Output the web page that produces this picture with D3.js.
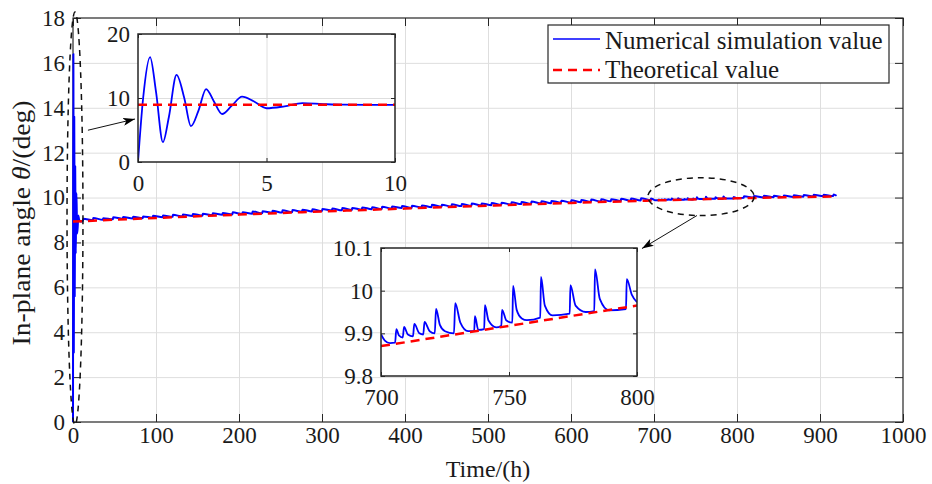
<!DOCTYPE html>
<html>
<head>
<meta charset="utf-8">
<script src="https://cdn.jsdelivr.net/npm/d3@7"></script>
<style>
body { margin: 0; background: #fff; }
text { font-family: "Liberation Serif", "Times New Roman", serif; fill: #1a1a1a; }
</style>
</head>
<body>
<div id="chart"></div>
<script>
/* ---- DATA ---- */
var xTicks = [0, 100, 200, 300, 400, 500, 600, 700, 800, 900, 1000];
var yTicks = [0, 2, 4, 6, 8, 10, 12, 14, 16, 18];

// theoretical in-plane angle (deg) vs time (h)
var theoryT = [0, 100, 200, 300, 400, 500, 600, 700, 800, 920];
var theoryV = [8.93, 9.09, 9.24, 9.38, 9.51, 9.64, 9.76, 9.87, 9.965, 10.05];

// start-up transient, 0-10 h
var transient = [
  [0, 0], [0.2, 10], [0.47, 16.4], [0.7, 11], [0.97, 3.1], [1.2, 7],
  [1.5, 13.6], [1.8, 10], [2.06, 5.6], [2.35, 8], [2.65, 11.4], [2.95, 9.5],
  [3.27, 7.5], [3.65, 8.8], [4.05, 10.2], [4.5, 9.5], [5.0, 8.4], [5.7, 8.7],
  [6.4, 9.2], [7.2, 9.05], [8, 8.95], [10, 8.93]
];

// small spikes along the long run: [time, low, peak]
var spikes = [
  [12, 8.97, 9.06], [24, 8.99, 9.09], [36, 9.01, 9.08], [48, 9.03, 9.12],
  [60, 9.05, 9.13], [72, 9.07, 9.15], [84, 9.08, 9.16], [96, 9.10, 9.19],
  [108, 9.12, 9.20], [120, 9.14, 9.23], [132, 9.16, 9.24], [144, 9.18, 9.27],
  [156, 9.19, 9.28], [168, 9.21, 9.30], [180, 9.23, 9.31], [192, 9.25, 9.34],
  [204, 9.27, 9.35], [216, 9.28, 9.38], [228, 9.30, 9.39], [240, 9.32, 9.41],
  [252, 9.33, 9.43], [264, 9.35, 9.44], [276, 9.37, 9.46], [288, 9.38, 9.48],
  [300, 9.40, 9.49], [312, 9.42, 9.51], [324, 9.43, 9.53], [336, 9.45, 9.54],
  [348, 9.46, 9.56], [360, 9.48, 9.57], [372, 9.49, 9.59], [384, 9.51, 9.60],
  [396, 9.53, 9.62], [408, 9.54, 9.63], [420, 9.56, 9.65], [432, 9.57, 9.68],
  [444, 9.59, 9.68], [456, 9.60, 9.70], [468, 9.62, 9.71], [480, 9.63, 9.73],
  [492, 9.65, 9.74], [504, 9.66, 9.76], [516, 9.68, 9.77], [528, 9.69, 9.79],
  [540, 9.71, 9.80], [552, 9.72, 9.82], [564, 9.74, 9.83], [576, 9.75, 9.85],
  [588, 9.77, 9.86], [600, 9.78, 9.88], [612, 9.79, 9.89], [624, 9.81, 9.91],
  [636, 9.82, 9.92], [648, 9.83, 9.93], [660, 9.85, 9.95], [672, 9.86, 9.96],
  [684, 9.87, 9.97], [696, 9.89, 9.96],
  [808, 9.99, 10.06], [820, 10.00, 10.07], [832, 10.00, 10.08], [844, 10.01, 10.08],
  [856, 10.02, 10.09], [868, 10.03, 10.10], [880, 10.04, 10.11], [892, 10.05, 10.12],
  [904, 10.06, 10.12], [916, 10.07, 10.14]
];
var runEnd = [920, 10.08];

// zoomed window 700-800 h
var detail = [
  [700, 9.898], [701.5, 9.883], [703.5, 9.877], [705.5, 9.878], [706, 9.91],
  [707, 9.895], [708.5, 9.89], [709, 9.915], [710.5, 9.897], [712.5, 9.893],
  [713, 9.922], [715, 9.9], [716.5, 9.897], [717, 9.927], [719, 9.905],
  [721, 9.9], [721.5, 9.957], [723, 9.92], [725, 9.905], [728.5, 9.9],
  [729, 9.971], [731, 9.925], [734, 9.905], [736.4, 9.905], [736.7, 9.94],
  [738, 9.908], [740.3, 9.91], [740.6, 9.966], [742, 9.93], [745, 9.914],
  [747, 9.918], [747.3, 9.955], [749, 9.93], [751.3, 9.925], [751.6, 10.011],
  [753, 9.955], [755, 9.935], [757, 9.931], [762.2, 9.937], [762.5, 10.032],
  [764, 9.965], [767, 9.942], [773.7, 9.946], [774, 10.013], [776, 9.965],
  [780, 9.95], [783.3, 9.952], [783.6, 10.05], [785.5, 9.98], [789, 9.954],
  [795.7, 9.957], [796, 10.027], [798, 9.99], [800, 9.973]
];
var detailTheory = [[700, 9.87], [800, 9.965]];
var startTheory = [[0, 8.93], [10, 8.94]];

var legendLabels = ["Numerical simulation value", "Theoretical value"];

/* ---- BUILD SERIES ---- */
var blueMain = transient.slice();
spikes.filter(d => d[0] < 700).forEach(d => { blueMain.push([d[0], d[1]]); blueMain.push([d[0] + 0.4, d[2]]); });
detail.forEach(d => blueMain.push(d));
spikes.filter(d => d[0] > 800).forEach(d => { blueMain.push([d[0], d[1]]); blueMain.push([d[0] + 0.4, d[2]]); });
blueMain.push(runEnd);
var redMain = theoryT.map((t, i) => [t, theoryV[i]]);

/* ---- SVG ---- */
var w = 932, h = 484;
var serif = "Liberation Serif, Times New Roman, serif";
var svg = d3.select("#chart").append("svg").attr("width", w).attr("height", h)
  .attr("font-family", serif);

var defs = svg.append("defs");
defs.append("marker")
  .attr("id", "arrow").attr("viewBox", "0 0 12 8")
  .attr("refX", 12).attr("refY", 4)
  .attr("markerWidth", 12).attr("markerHeight", 8)
  .attr("markerUnits", "userSpaceOnUse").attr("orient", "auto")
  .append("path").attr("d", "M0,0 L12,4 L0,8 L3,4 Z").attr("fill", "#000");

var x = d3.scaleLinear().domain([0, 1000]).range([73, 903]);
var y = d3.scaleLinear().domain([0, 18]).range([422, 18]);
var fmt = d3.format("d");

// grid
svg.append("g").attr("transform", "translate(0," + y(0) + ")")
  .call(d3.axisBottom(x).tickValues(xTicks.slice(1, -1)).tickSize(-(y(0) - y(18))).tickFormat(""))
  .call(g => g.select(".domain").remove())
  .call(g => g.selectAll("line").attr("stroke", "#dedede"));
svg.append("g").attr("transform", "translate(" + x(0) + ",0)")
  .call(d3.axisLeft(y).tickValues(yTicks.slice(1, -1)).tickSize(-(x(1000) - x(0))).tickFormat(""))
  .call(g => g.select(".domain").remove())
  .call(g => g.selectAll("line").attr("stroke", "#dedede"));

function styleAxis(g, size) {
  g.attr("font-family", serif).attr("font-size", size);
  g.select(".domain").remove();
  g.selectAll("line").attr("stroke", "#262626");
  g.selectAll("text").style("font-family", serif).attr("fill", "#1a1a1a");
}

// axes, ticks pointing inward
svg.append("g").attr("transform", "translate(0," + y(0) + ")")
  .call(d3.axisBottom(x).tickValues(xTicks).tickFormat(fmt).tickSizeInner(-8).tickSizeOuter(0).tickPadding(5))
  .call(g => styleAxis(g, 23));
svg.append("g").attr("transform", "translate(0," + y(18) + ")")
  .call(d3.axisTop(x).tickValues(xTicks).tickSizeInner(-8).tickSizeOuter(0).tickFormat(""))
  .call(g => styleAxis(g, 23));
svg.append("g").attr("transform", "translate(" + x(0) + ",0)")
  .call(d3.axisLeft(y).tickValues(yTicks).tickFormat(fmt).tickSizeInner(-8).tickSizeOuter(0).tickPadding(8))
  .call(g => styleAxis(g, 23));
svg.append("g").attr("transform", "translate(" + x(1000) + ",0)")
  .call(d3.axisRight(y).tickValues(yTicks).tickSizeInner(-8).tickSizeOuter(0).tickFormat(""))
  .call(g => styleAxis(g, 23));

svg.append("rect")
  .attr("x", x(0)).attr("y", y(18))
  .attr("width", x(1000) - x(0)).attr("height", y(0) - y(18))
  .attr("fill", "none").attr("stroke", "#262626").attr("stroke-width", 1.2);

/* ---- DRAW LINES ---- */
var line = d3.line().x(d => x(d[0])).y(d => y(d[1])).curve(d3.curveMonotoneX);

svg.append("path").datum(blueMain).attr("d", line)
  .attr("fill", "none").attr("stroke", "#0000ff").attr("stroke-width", 2)
  .attr("stroke-linejoin", "round");
svg.append("path").datum(redMain).attr("d", line)
  .attr("fill", "none").attr("stroke", "#ff0000").attr("stroke-width", 2.5)
  .attr("stroke-dasharray", "9,6");

/* ---- AXIS TITLES ---- */
svg.append("text")
  .attr("x", (x(0) + x(1000)) / 2).attr("y", 477)
  .attr("text-anchor", "middle").attr("font-size", 24)
  .text("Time/(h)");

var yl = svg.append("text")
  .attr("transform", "translate(30,223) rotate(-90)")
  .attr("text-anchor", "middle").attr("font-size", 25)
  .attr("textLength", 245).attr("lengthAdjust", "spacingAndGlyphs");
yl.append("tspan").text("In-plane angle ");
yl.append("tspan").attr("font-style", "italic").text("θ");
yl.append("tspan").text("/(deg)");

/* ---- CALLOUTS ---- */
svg.append("ellipse")
  .attr("cx", x(2.4)).attr("cy", y(9.07))
  .attr("rx", x(9.6) - x(0)).attr("ry", y(0) - y(9.2))
  .attr("fill", "none").attr("stroke", "#111").attr("stroke-width", 1.5)
  .attr("stroke-dasharray", "6,5");
svg.append("ellipse")
  .attr("cx", x(756.6)).attr("cy", y(10.04))
  .attr("rx", x(64) - x(0)).attr("ry", y(0) - y(0.845))
  .attr("fill", "none").attr("stroke", "#111").attr("stroke-width", 1.5)
  .attr("stroke-dasharray", "6,5");

svg.append("line")
  .attr("x1", x(18)).attr("y1", y(13.0)).attr("x2", x(74.7)).attr("y2", y(13.5))
  .attr("stroke", "#111").attr("stroke-width", 1).attr("marker-end", "url(#arrow)");
svg.append("line")
  .attr("x1", x(751.8)).attr("y1", y(9.2)).attr("x2", x(685.5)).attr("y2", y(7.73))
  .attr("stroke", "#111").attr("stroke-width", 1).attr("marker-end", "url(#arrow)");

/* ---- INSETS ---- */
function drawInset(id, box, xDom, yDom, xt, yt, fmtY, blue, red) {
  var xs = d3.scaleLinear().domain(xDom).range([box.x, box.x + box.w]);
  var ys = d3.scaleLinear().domain(yDom).range([box.y + box.h, box.y]);
  var g = svg.append("g");
  g.append("rect").attr("x", box.x).attr("y", box.y).attr("width", box.w).attr("height", box.h)
    .attr("fill", "#fff");
  defs.append("clipPath").attr("id", id).append("rect")
    .attr("x", box.x).attr("y", box.y).attr("width", box.w).attr("height", box.h);

  g.append("g").attr("transform", "translate(0," + (box.y + box.h) + ")")
    .call(d3.axisBottom(xs).tickValues(xt.slice(1, -1)).tickSize(-box.h).tickFormat(""))
    .call(a => a.select(".domain").remove())
    .call(a => a.selectAll("line").attr("stroke", "#dedede"));
  g.append("g").attr("transform", "translate(" + box.x + ",0)")
    .call(d3.axisLeft(ys).tickValues(yt.slice(1, -1)).tickSize(-box.w).tickFormat(""))
    .call(a => a.select(".domain").remove())
    .call(a => a.selectAll("line").attr("stroke", "#dedede"));

  var ln = d3.line().x(d => xs(d[0])).y(d => ys(d[1])).curve(d3.curveMonotoneX);
  var plot = g.append("g").attr("clip-path", "url(#" + id + ")");
  plot.append("path").datum(blue).attr("d", ln)
    .attr("fill", "none").attr("stroke", "#0000ff").attr("stroke-width", 1.8);
  plot.append("path").datum(red).attr("d", ln)
    .attr("fill", "none").attr("stroke", "#ff0000").attr("stroke-width", 2.5)
    .attr("stroke-dasharray", "9,6");

  g.append("g").attr("transform", "translate(0," + (box.y + box.h) + ")")
    .call(d3.axisBottom(xs).tickValues(xt).tickFormat(fmt).tickSizeInner(-4).tickSizeOuter(0).tickPadding(13))
    .call(a => styleAxis(a, 23));
  g.append("g").attr("transform", "translate(0," + box.y + ")")
    .call(d3.axisTop(xs).tickValues(xt).tickSizeInner(-4).tickSizeOuter(0).tickFormat(""))
    .call(a => styleAxis(a, 23));
  g.append("g").attr("transform", "translate(" + box.x + ",0)")
    .call(d3.axisLeft(ys).tickValues(yt).tickSizeInner(-4).tickSizeOuter(0).tickPadding(8).tickFormat(fmtY))
    .call(a => styleAxis(a, 23));
  g.append("g").attr("transform", "translate(" + (box.x + box.w) + ",0)")
    .call(d3.axisRight(ys).tickValues(yt).tickSizeInner(-4).tickSizeOuter(0).tickFormat(""))
    .call(a => styleAxis(a, 23));

  g.append("rect").attr("x", box.x).attr("y", box.y).attr("width", box.w).attr("height", box.h)
    .attr("fill", "none").attr("stroke", "#262626").attr("stroke-width", 1.5);
}

drawInset("clipA", { x: 138, y: 34, w: 257, h: 128 }, [0, 10], [0, 20],
  [0, 5, 10], [0, 10, 20], d => d, transient, startTheory);
drawInset("clipB", { x: 381, y: 248, w: 256, h: 128 }, [700, 800], [9.8, 10.1],
  [700, 750, 800], [9.8, 9.9, 10, 10.1], d => +d.toFixed(1), detail, detailTheory);

/* ---- LEGEND ---- */
var lg = svg.append("g");
lg.append("rect").attr("x", 548).attr("y", 25).attr("width", 341).attr("height", 58)
  .attr("fill", "#fff").attr("stroke", "#262626").attr("stroke-width", 1.2);
lg.append("line").attr("x1", 553).attr("x2", 600).attr("y1", 39).attr("y2", 39)
  .attr("stroke", "#0000ff").attr("stroke-width", 1.5);
lg.append("line").attr("x1", 553).attr("x2", 600).attr("y1", 70).attr("y2", 70)
  .attr("stroke", "#ff0000").attr("stroke-width", 2.5).attr("stroke-dasharray", "9,6");
lg.selectAll("text.lab").data(legendLabels).enter().append("text")
  .attr("class", "lab")
  .attr("x", 605).attr("y", (d, i) => 49 + i * 29)
  .attr("font-size", 25)
  .text(d => d);
</script>
</body>
</html>
